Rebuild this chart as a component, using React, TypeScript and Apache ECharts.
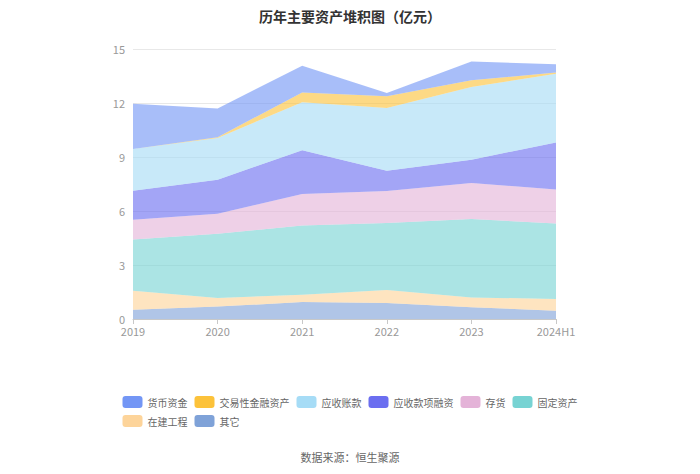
import React, { useEffect, useRef } from "react";
import * as echarts from "echarts";

const categories = ["2019", "2020", "2021", "2022", "2023", "2024H1"];
const legendOrder = ["货币资金", "交易性金融资产", "应收账款", "应收款项融资", "存货", "固定资产", "在建工程", "其它"];

// bottom to top stacking values (亿元)
const qita = [0.52, 0.69, 0.94, 0.89, 0.65, 0.46];
const zaijian = [1.05, 0.48, 0.41, 0.72, 0.55, 0.65];
const guding = [2.84, 3.57, 3.84, 3.72, 4.36, 4.19];
const cunhuo = [1.11, 1.11, 1.75, 1.78, 2.0, 1.89];
const yingshouRongzi = [1.61, 1.89, 2.43, 1.13, 1.29, 2.62];
const yingshouZhang = [2.31, 2.32, 2.67, 3.48, 4.04, 3.82];
const jiaoyi = [0, 0.04, 0.55, 0.65, 0.37, 0.07];
const huobi = [2.52, 1.6, 1.48, 0.19, 1.04, 0.45];

const yTicks = [0, 3, 6, 9, 12, 15];

const stackSeries: { name: string; data: number[]; color: string }[] = [
  { name: "其它", data: qita, color: "#7fa2d8" },
  { name: "在建工程", data: zaijian, color: "#fdd49a" },
  { name: "固定资产", data: guding, color: "#77d3d3" },
  { name: "存货", data: cunhuo, color: "#e4b3d8" },
  { name: "应收款项融资", data: yingshouRongzi, color: "#6b6ef0" },
  { name: "应收账款", data: yingshouZhang, color: "#a6dcf6" },
  { name: "交易性金融资产", data: jiaoyi, color: "#fcc23a" },
  { name: "货币资金", data: huobi, color: "#7396f5" },
];

const FONT = "'Noto Sans CJK SC', 'Noto Sans', sans-serif";

export default function App() {
  const ref = useRef<HTMLDivElement>(null);
  useEffect(() => {
    if (!ref.current) return;
    const chart = echarts.init(ref.current, null, { renderer: "svg" });
    chart.setOption({
      animation: false,
      textStyle: { fontFamily: FONT },
      title: {
        text: "历年主要资产堆积图（亿元）",
        left: "center",
        top: 4,
        textStyle: { fontSize: 14, fontWeight: "bold", color: "#333", fontFamily: FONT },
      },
      legend: {
        data: legendOrder,
        left: "center",
        top: 391,
        width: 490,
        itemWidth: 20,
        itemHeight: 12,
        itemGap: 7,
        icon: "roundRect",
        textStyle: { fontSize: 10, color: "#666", fontFamily: FONT },
      },
      graphic: [
        {
          type: "text",
          left: "center",
          top: 451,
          style: { text: "数据来源：恒生聚源", fontSize: 11, fill: "#666", fontFamily: FONT },
        },
      ],
      grid: { left: 133, right: 144, top: 49, bottom: 155 },
      xAxis: {
        type: "category",
        boundaryGap: false,
        data: categories,
        axisLine: { lineStyle: { color: "#c8c8c8" } },
        axisTick: { show: true, lineStyle: { color: "#c8c8c8" } },
        axisLabel: { color: "#999", fontSize: 11, margin: 6 },
      },
      yAxis: {
        type: "value",
        min: yTicks[0],
        max: yTicks[yTicks.length - 1],
        interval: 3,
        axisLine: { show: false },
        axisTick: { show: false },
        axisLabel: { color: "#999", fontSize: 11, margin: 8 },
        splitLine: { lineStyle: { color: "#e8e8e8" } },
      },
      series: stackSeries.map((s) => ({
        name: s.name,
        type: "line",
        stack: "total",
        data: s.data,
        showSymbol: false,
        symbol: "none",
        color: s.color,
        lineStyle: { width: 0 },
        areaStyle: { color: s.color, opacity: 0.62 },
      })),
    });
    return () => chart.dispose();
  }, []);
  return (
    <div
      ref={ref}
      style={{ position: "absolute", left: 0, top: 0, width: 700, height: 474 }}
    />
  );
}
